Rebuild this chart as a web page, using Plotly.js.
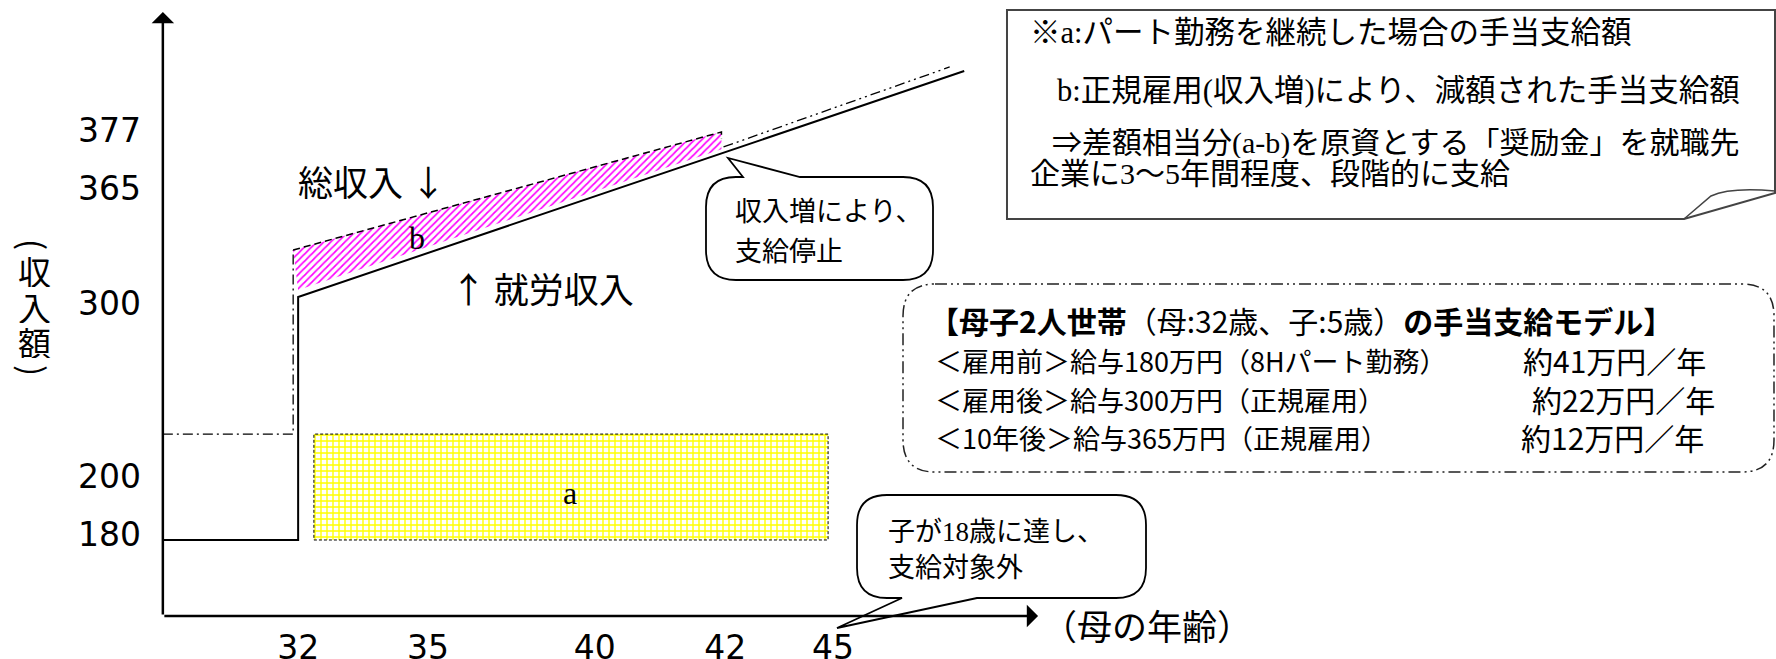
<!DOCTYPE html>
<html>
<head>
<meta charset="utf-8">
<script src="https://cdn.plot.ly/plotly-3.0.1.min.js"></script>
<style>
  html, body { margin: 0; padding: 0; background: #fff; }
  #chart { width: 1776px; height: 659px; }
</style>
</head>
<body>
<div id="chart"></div>
<script>
const W = 1776
const H = 659

// axis labels as printed on the drawing
const ageTicks = ['32', '35', '40', '42', '45']
const incomeTicks = ['377', '365', '300', '200', '180']

// schematic values (x: mother's age, y: income in 10k yen)
const workAge = [28.84, 32.1, 32.1, 48.15]
const workIncome = [180, 180, 300, 411.6]

const totalAgeBefore = [28.84, 31.98, 31.98]
const totalIncomeBefore = [232.3, 232.3, 323.2]
const totalAgeCut = [31.98, 42.3, 42.3]
const totalIncomeCut = [323.2, 381.5, 378]
const totalAgeAfter = [42.35, 47.8]
const totalIncomeAfter = [374.1, 413.6]

// a: allowance if she stays part-time, b: allowance reduced by regular job
const aAge = [32.48, 44.87, 44.87, 32.48, 32.48]
const aIncome = [180, 180, 232.3, 232.3, 180]
const bAge = [31.98, 42.3, 42.3, 32.1]
const bIncome = [323.2, 381.5, 373, 303.5]

const gothic = '"Noto Sans CJK JP", sans-serif'
const mincho = '"Liberation Serif", "Noto Sans CJK JP", serif'

// pixel -> paper helpers for the decorations (margins are zero)
const px = v => v / W
const py = v => 1 - v / H

const toPath = cmds => cmds.map(c => {
  if (c === 'Z') return 'Z'
  const [op, ...v] = c
  const pts = []
  for (let i = 0; i < v.length; i += 2) pts.push(px(v[i]).toFixed(5) + ',' + py(v[i + 1]).toFixed(5))
  return op + pts.join(' ')
}).join(' ')

const lineTrace = (x, y, dash, width) => ({
  x, y, type: 'scatter', mode: 'lines', hoverinfo: 'skip', showlegend: false,
  line: {color: '#000', width: width || 1.5, dash: dash || 'solid'}
})

const data = [
  {
    x: aAge, y: aIncome, type: 'scatter', mode: 'lines', fill: 'toself',
    hoverinfo: 'skip', showlegend: false,
    line: {color: '#000', width: 1, dash: '3px,2px'},
    fillcolor: 'rgba(0,0,0,0)',
    fillpattern: {shape: '+', fgcolor: '#ffff00', bgcolor: '#ffffff', size: 6, solidity: 0.4}
  },
  {
    x: bAge, y: bIncome, type: 'scatter', mode: 'lines', fill: 'toself',
    hoverinfo: 'skip', showlegend: false,
    line: {width: 0},
    fillcolor: 'rgba(0,0,0,0)',
    fillpattern: {shape: '/', fgcolor: '#ff00ff', bgcolor: '#ffffff', size: 5, solidity: 0.34}
  },
  lineTrace(totalAgeBefore, totalIncomeBefore, '10px,4px,2px,4px', 1.3),
  lineTrace(totalAgeCut, totalIncomeCut, '7px,4px', 1.5),
  lineTrace(totalAgeAfter, totalIncomeAfter, '10px,4px,2px,4px,2px,4px', 1.3),
  lineTrace(workAge, workIncome, 'solid', 2)
]

const text = (x, y, t, size, family, anchor, extra) => Object.assign({
  xref: 'paper', yref: 'paper', x: px(x), y: py(y), text: t, showarrow: false,
  xanchor: anchor || 'center', yanchor: 'middle',
  font: {family: family || gothic, size: size, color: '#000'}
}, extra || {})

const axisAge = 28.84
const axisIncome = 142.47

const annotations = [
  // axis arrows
  {x: axisAge, y: 440.74, ax: axisAge, ay: axisIncome, xref: 'x', yref: 'y', axref: 'x', ayref: 'y',
   text: '', showarrow: true, arrowhead: 1, arrowsize: 1.5, arrowwidth: 2.5, arrowcolor: '#000'},
  {x: 49.93, y: axisIncome, ax: axisAge, ay: axisIncome, xref: 'x', yref: 'y', axref: 'x', ayref: 'y',
   text: '', showarrow: true, arrowhead: 1, arrowsize: 1.5, arrowwidth: 2.5, arrowcolor: '#000'},

  text(372, 181, '総収入 ↓', 35),
  text(542, 287, '↑ 就労収入', 35),
  text(417, 238, 'b', 32, '"Liberation Serif", serif'),
  text(570, 493, 'a', 32, '"Liberation Serif", serif'),
  text(1147, 624, '（母の年齢）', 35),

  // vertical y title, one character per box
  text(34, 244, '(', 33, gothic, 'center', {textangle: 90}),
  text(34, 271, '収', 33, gothic, 'center', {height: 32}),
  text(34, 307, '入', 33, gothic, 'center', {height: 32}),
  text(34, 342, '額', 33, gothic, 'center', {height: 32}),
  text(34, 370, ')', 33, gothic, 'center', {textangle: 90}),

  // callouts
  text(733, 212, '収入増により、', 27, mincho, 'left'),
  text(733, 252, '支給停止', 27, mincho, 'left'),
  text(886, 532, '子が18歳に達し、', 27, mincho, 'left'),
  text(886, 568, '支給対象外', 27, mincho, 'left'),

  // note box
  text(1028, 33, '※a:パート勤務を継続した場合の手当支給額', 30.5, mincho, 'left'),
  text(1055, 91, 'b:正規雇用(収入増)により、減額された手当支給額', 30.5, mincho, 'left'),
  text(1050, 143, '⇒差額相当分(a-b)を原資とする「奨励金」を就職先', 30, mincho, 'left', {height: 30}),
  text(1028, 173, '企業に3～5年間程度、段階的に支給', 30, mincho, 'left', {height: 30}),

  // model household box
  text(927, 320, '<b>【母子2人世帯</b>（母:32歳、子:5歳）<b>の手当支給モデル】</b>', 30, gothic, 'left', {height: 36}),
  text(933, 360, '＜雇用前＞給与180万円（8Hパート勤務）', 27, gothic, 'left', {height: 36}),
  text(933, 399, '＜雇用後＞給与300万円（正規雇用）', 27, gothic, 'left', {height: 36}),
  text(933, 437, '＜10年後＞給与365万円（正規雇用）', 27, gothic, 'left', {height: 36}),
  text(1521, 360, '約41万円／年', 30, gothic, 'left', {height: 36}),
  text(1530, 399, '約22万円／年', 30, gothic, 'left', {height: 36}),
  text(1519, 437, '約12万円／年', 30, gothic, 'left', {height: 36})
]

const shapes = [
  // callout: payment stops
  {type: 'path', xref: 'paper', yref: 'paper', fillcolor: '#fff', line: {color: '#000', width: 1.8},
   path: toPath([['M', 736, 177], ['L', 743, 177], ['L', 728, 158], ['L', 800, 177], ['L', 903, 177],
     ['Q', 933, 177, 933, 207], ['L', 933, 250], ['Q', 933, 280, 903, 280], ['L', 736, 280],
     ['Q', 706, 280, 706, 250], ['L', 706, 207], ['Q', 706, 177, 736, 177], 'Z'])},
  // callout: child reaches 18
  {type: 'path', xref: 'paper', yref: 'paper', fillcolor: 'rgba(255,255,255,0)', line: {color: '#000', width: 1.8},
   path: toPath([['M', 887, 495], ['L', 1116, 495], ['Q', 1146, 495, 1146, 525], ['L', 1146, 568],
     ['Q', 1146, 598, 1116, 598], ['L', 977, 598], ['L', 837, 628], ['L', 902, 598], ['L', 887, 598],
     ['Q', 857, 598, 857, 568], ['L', 857, 525], ['Q', 857, 495, 887, 495], 'Z'])},
  // note box with folded corner
  {type: 'path', xref: 'paper', yref: 'paper', fillcolor: '#fff', line: {color: '#444', width: 2},
   path: toPath([['M', 1007, 10], ['L', 1775, 10], ['L', 1775, 193], ['L', 1684, 219], ['L', 1007, 219], 'Z'])},
  {type: 'path', xref: 'paper', yref: 'paper', line: {color: '#444', width: 1.5},
   path: toPath([['M', 1684, 219], ['L', 1711, 196], ['Q', 1730, 187, 1775, 191]])},
  // model box
  {type: 'path', xref: 'paper', yref: 'paper', line: {color: '#222', width: 1.5, dash: '12px,4px,2px,4px,2px,4px'},
   path: toPath([['M', 935, 284], ['L', 1742, 284], ['Q', 1774, 284, 1774, 316], ['L', 1774, 440],
     ['Q', 1774, 472, 1742, 472], ['L', 935, 472], ['Q', 903, 472, 903, 440], ['L', 903, 316],
     ['Q', 903, 284, 935, 284], 'Z'])}
]

const layout = {
  width: W,
  height: H,
  margin: {l: 0, r: 0, t: 0, b: 0},
  paper_bgcolor: '#fff',
  plot_bgcolor: '#fff',
  showlegend: false,
  xaxis: {
    range: [24.916, 67.711],
    anchor: 'free',
    position: py(616),
    showgrid: false, zeroline: false, showline: false,
    ticks: '',
    tickvals: [32.1, 35.23, 39.25, 42.39, 44.99],
    ticktext: ageTicks,
    ticklabelstandoff: 9,
    tickfont: {family: '"DejaVu Sans", sans-serif', size: 33, color: '#000'},
    automargin: false,
    fixedrange: true
  },
  yaxis: {
    range: [121.23, 446.67],
    anchor: 'free',
    position: px(163),
    showgrid: false, zeroline: false, showline: false,
    ticks: '',
    tickvals: [382.5, 353.8, 297.0, 211.6, 182.5],
    ticktext: incomeTicks,
    ticklabelstandoff: 22,
    tickfont: {family: '"DejaVu Sans", sans-serif', size: 33, color: '#000'},
    automargin: false,
    fixedrange: true
  },
  shapes,
  annotations
}

Plotly.newPlot('chart', data, layout, {staticPlot: true, displayModeBar: false})
</script>
</body>
</html>
